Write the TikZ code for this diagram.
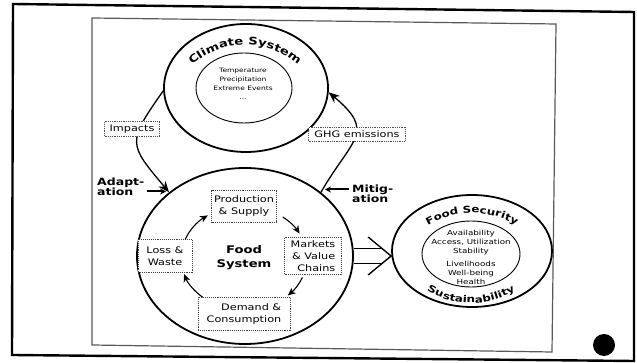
\documentclass[tikz,border=0pt]{standalone}
\usepackage{fontspec}
\setmainfont{DejaVu Sans}[FakeStretch=1.25]
\usetikzlibrary{shapes.geometric, arrows.meta, decorations.text}
\begin{document}
\begin{tikzpicture}[x=1pt, y=1pt,
  sysring/.style={ellipse, draw, line width=1.8pt, inner sep=0pt},
  core/.style={ellipse, draw, line width=0.9pt, inner sep=0pt},
  stagebox/.style={draw=black!75, densely dotted, line width=0.9pt, fill=white,
    inner sep=0pt, align=center, font=\fontsize{9}{12}\selectfont},
  tag/.style={draw=black!70, densely dotted, line width=0.8pt, fill=white,
    inner sep=0pt, font=\fontsize{9}{11}\selectfont},
  flow/.style={line width=1.3pt, -{Stealth[length=11pt, width=9pt]}},
  cycarrow/.style={line width=1.1pt, -{Stealth[length=8pt, width=7pt]}},
  lever/.style={line width=2pt, -{Stealth[length=6pt, width=6pt]}},
  small/.style={font=\fontsize{6}{8.8}\selectfont, align=center},
  boldlabel/.style={font=\fontsize{10}{10.5}\selectfont\bfseries, align=left, inner sep=0pt},
]
\useasboundingbox (0,0) rectangle (637,363);

% slide frames and page marker
\draw[line width=2.4pt] (13,359) -- (634,351) -- (634,2) -- (12,8) -- cycle;
\draw[black!65, line width=1.2pt] (92,345) -- (556,339) -- (552,11) -- (92,18) -- cycle;
\fill (604,18) circle[radius=11];

% climate system
\node[sysring, minimum width=164pt, minimum height=128pt] (clim) at (246,275) {};
\node[core, minimum width=96pt, minimum height=70pt] (climin) at (244,275) {};
\node[small] (climtxt) at (243,279) {Temperature\\Precipitation\\Extreme Events\\...};
\coordinate (climarc) at (245,238);
\path[decorate, decoration={text along path, text align=center,
  text={|\fontsize{10.5}{12}\selectfont\bfseries|Climate System}}]
  ([shift={(150:80)}]climarc) arc[start angle=150, end angle=30, radius=80];

% food system
\node[sysring, minimum width=216pt, minimum height=176pt] (food) at (245,107) {};
\node[font=\fontsize{10.5}{14}\selectfont\bfseries, align=center] (foodtxt) at (244,105) {Food\\System};
\node[stagebox, minimum width=65pt, minimum height=32pt] (ps) at (244,157) {Production\\\& Supply};
\node[stagebox, align=right, minimum width=57pt, minimum height=37pt] (mv) at (313,107) {Markets\\\& Value\\Chains};
\node[stagebox, minimum width=54pt, minimum height=33pt] (lw) at (165,107) {Loss \&\\Waste};
\node[stagebox, align=right, minimum width=92pt, minimum height=33pt] (dc) at (244,49) {Demand \&\\Consumption};

% cycle inside the food system
\coordinate (cyc) at (244,105);
\draw[cycarrow] ([shift={(159:63 and 52)}]cyc) arc[start angle=159, end angle=125, x radius=63, y radius=52];
\draw[cycarrow] ([shift={(52:63 and 52)}]cyc) arc[start angle=52, end angle=28, x radius=63, y radius=52];
\draw[cycarrow] ([shift={(-22:63 and 52)}]cyc) arc[start angle=-22, end angle=-46, x radius=63, y radius=52];
\draw[cycarrow] ([shift={(229:63 and 52)}]cyc) arc[start angle=229, end angle=198, x radius=63, y radius=52];

% feedback loop between the two systems
\draw[flow] (clim.182) to[out=235, in=130, looseness=1.6] (food.140);
\draw[flow] (food.40) to[out=60, in=-40, looseness=1.6] (clim.-3);
\node[tag, minimum width=55pt, minimum height=15pt] (imp) at (132,234) {Impacts};
\node[tag, minimum width=97pt, minimum height=14pt] (ghg) at (357,229) {GHG emissions};

% responses
\node[boldlabel, anchor=west] (adapt) at (97,176) {Adapt-\\ation};
\node[boldlabel, anchor=west] (mitig) at (352,169) {Mitig-\\ation};
\coordinate (adtip) at (166,171.5);
\coordinate (mitip) at (325,173.5);
\draw[lever] (adapt.east |- adtip) ++(2pt,0) -- (adtip);
\draw[lever] (mitig.west |- mitip) ++(-3pt,0) -- (mitip);

% food security
\node[sysring, minimum width=160pt, minimum height=112pt] (sec) at (472,112) {};
\node[core, minimum width=98pt, minimum height=66pt] (secin) at (471,109) {};
\node[font=\fontsize{7}{9}\selectfont, align=center] (pillars) at (471,120) {Availability\\Access, Utilization\\Stability};
\node[font=\fontsize{7}{9}\selectfont, align=center] (outcomes) at (471,90) {Livelihoods\\Well-being\\Health};
\coordinate (fsarc) at (472,64);
\path[decorate, decoration={text along path, text align=center,
  text={|\fontsize{9.5}{10}\selectfont\bfseries|Food Security}}]
  ([shift={(150:86)}]fsarc) arc[start angle=150, end angle=30, radius=86];
\coordinate (susarc) at (471,146);
\path[decorate, decoration={text along path, text align=center,
  text={|\fontsize{9.5}{10}\selectfont\bfseries|Sustainability}}]
  ([shift={(210:86)}]susarc) arc[start angle=210, end angle=330, radius=86];

% outcome arrow: double shaft with an open head
\coordinate (dtip) at (food.east -| sec.west);
\draw[line width=1.2pt, double distance=14pt] (food.east) -- ([xshift=-8pt]dtip);
\draw[line width=1.4pt, line join=miter] ([shift={(-23pt,19pt)}]dtip) -- (dtip) -- ([shift={(-23pt,-19pt)}]dtip);
\end{tikzpicture}
\end{document}
